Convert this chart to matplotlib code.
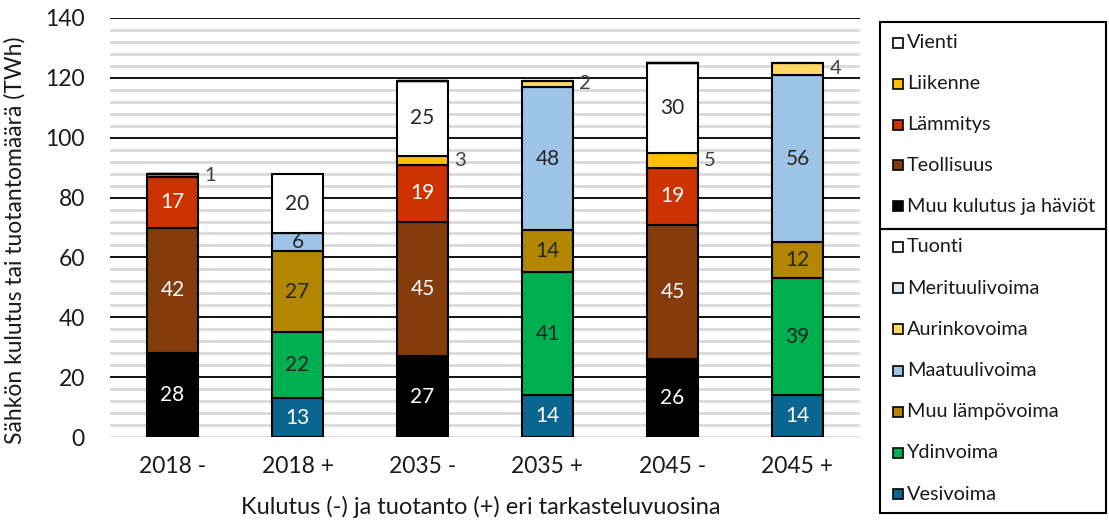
import matplotlib
matplotlib.use("Agg")
import matplotlib.pyplot as plt
from matplotlib.patches import Rectangle
import numpy as np

plt.rcParams['font.family'] = ['Lato', 'DejaVu Sans']

categories = ["2018 -", "2018 +", "2035 -", "2035 +", "2045 -", "2045 +"]

# consumption series (bars 0, 2, 4) and production series (bars 1, 3, 5)
muu_kulutus = [28, 0, 27, 0, 26, 0]
teollisuus = [42, 0, 45, 0, 45, 0]
lammitys = [17, 0, 19, 0, 19, 0]
liikenne = [1, 0, 3, 0, 5, 0]
vienti = [0, 0, 25, 0, 30, 0]

vesivoima = [0, 13, 0, 14, 0, 14]
ydinvoima = [0, 22, 0, 41, 0, 39]
muu_lampovoima = [0, 27, 0, 14, 0, 12]
maatuulivoima = [0, 6, 0, 48, 0, 56]
aurinkovoima = [0, 0, 0, 2, 0, 4]
merituulivoima = [0, 0, 0, 0, 0, 0]
tuonti = [0, 20, 0, 0, 0, 0]

# stacking order bottom -> top: (label, values, colour, label text colour, label outside)
stack = [
    ("Muu kulutus ja häviöt", muu_kulutus, "#000000", "white", False),
    ("Teollisuus", teollisuus, "#843C0C", "white", False),
    ("Lämmitys", lammitys, "#CC3300", "white", False),
    ("Liikenne", liikenne, "#FFC000", "#404040", True),
    ("Vienti", vienti, "#FFFFFF", "#262626", False),
    ("Vesivoima", vesivoima, "#0A6690", "white", False),
    ("Ydinvoima", ydinvoima, "#00B050", "#262626", False),
    ("Muu lämpövoima", muu_lampovoima, "#B38600", "#262626", False),
    ("Maatuulivoima", maatuulivoima, "#9DC3E6", "#262626", False),
    ("Aurinkovoima", aurinkovoima, "#FFD966", "#404040", True),
    ("Merituulivoima", merituulivoima, "#DEEBF7", "#262626", False),
    ("Tuonti", tuonti, "#FFFFFF", "#262626", False),
]

legend_top = ["Vienti", "Liikenne", "Lämmitys", "Teollisuus", "Muu kulutus ja häviöt"]
legend_bottom = ["Tuonti", "Merituulivoima", "Aurinkovoima", "Maatuulivoima",
                 "Muu lämpövoima", "Ydinvoima", "Vesivoima"]

W, H = 1109, 524
fig = plt.figure(figsize=(W / 100, H / 100), dpi=100)
ax = fig.add_axes([110 / W, 1 - 437 / H, 750 / W, 419 / H])

x = np.arange(len(categories))
bar_w = 0.41

# grid: light minor lines every 4, dark major lines every 20
for v in np.arange(0, 141, 4):
    if v % 20 == 0 and v > 0:
        continue
    ax.axhline(v, color="#D9D9D9", lw=2.0, zorder=0)
for v in range(20, 141, 20):
    ax.axhline(v, color="black", lw=1.3, zorder=0.5)

bottom = np.zeros(len(categories))
colours = {}
for name, vals, col, tcol, outside in stack:
    vals = np.array(vals, dtype=float)
    colours[name] = col
    ax.bar(x, vals, bar_w, bottom=bottom, color=col, edgecolor="black",
           linewidth=1.5, zorder=2)
    for i, v in enumerate(vals):
        if v <= 0:
            continue
        yc = bottom[i] + v / 2
        if outside:
            ax.text(x[i] + bar_w / 2 + 0.05, yc, f"{v:g}", ha="left", va="center",
                    fontsize=14.5, color=tcol, zorder=3)
        else:
            ax.text(x[i], yc, f"{v:g}", ha="center", va="center",
                    fontsize=15, color=tcol, zorder=3)
    bottom += vals

ax.set_xlim(-0.5, len(categories) - 0.5)
ax.set_ylim(0, 140)
ax.set_yticks(range(0, 141, 20))
ax.set_xticks(x)
ax.set_xticklabels(categories)
ax.tick_params(axis="both", length=0, labelsize=16.5, colors="#1a1a1a")
ax.tick_params(axis="x", pad=14)
ax.tick_params(axis="y", pad=18)
for s in ax.spines.values():
    s.set_visible(False)
ax.set_xlabel("Kulutus (-) ja tuotanto (+) eri tarkasteluvuosina", fontsize=17,
              color="#1a1a1a")
ax.set_ylabel("Sähkön kulutus tai tuotantomäärä (TWh)", fontsize=16.5,
              color="#1a1a1a")
ax.xaxis.set_label_coords(0.495, (437 - 507) / 419)
ax.xaxis.label.set_va("center")
ax.yaxis.set_label_coords((15 - 110) / 750, 0.47)
ax.yaxis.label.set_va("center")


# legend drawn as two stacked framed boxes
def fx(px):
    return px / W


def fy(py):
    return 1 - py / H


def legend_box(names, top_px, bottom_px, first_px, step_px):
    fig.patches.append(Rectangle((fx(880), fy(bottom_px)), fx(1106) - fx(880),
                                 fy(top_px) - fy(bottom_px), transform=fig.transFigure,
                                 facecolor="none", edgecolor="black", lw=1.5))
    for k, nm in enumerate(names):
        yc = first_px + k * step_px
        fig.patches.append(Rectangle((fx(893), fy(yc + 5)), fx(10), 10 / H,
                                     transform=fig.transFigure,
                                     facecolor=colours[nm], edgecolor="black", lw=1.2))
        fig.text(fx(907), fy(yc), nm, ha="left", va="center", fontsize=14.3,
                 color="#1a1a1a")


legend_box(legend_top, 22, 229, 43, 40.8)
legend_box(legend_bottom, 229, 513, 247, 41.2)

fig.savefig("out.png", dpi=100)
